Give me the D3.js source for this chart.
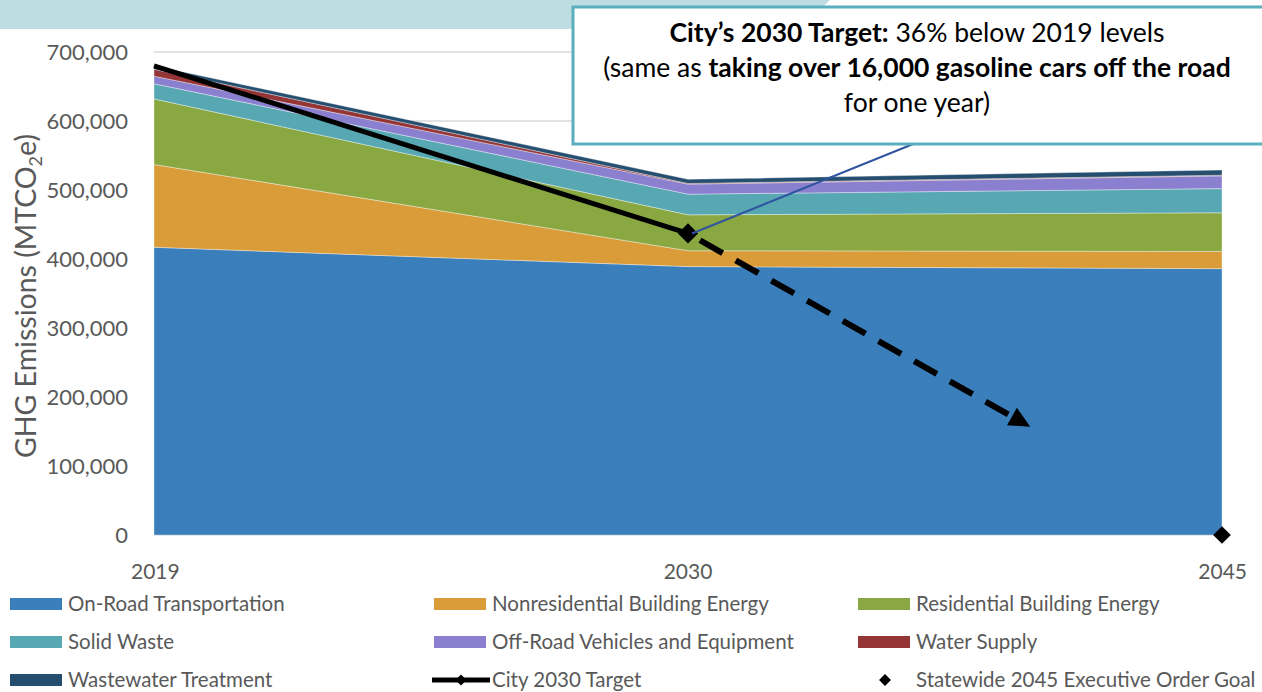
<!DOCTYPE html>
<html>
<head>
<meta charset="utf-8">
<script src="https://cdn.jsdelivr.net/npm/d3@7"></script>
<style>
  body { margin: 0; background: #fff; }
  text { font-family: Lato, "Open Sans", sans-serif; }
</style>
</head>
<body>
<div id="chart"></div>
<script>
// data
var years = ["2019", "2030", "2045"];
var seriesNames = ["On-Road Transportation", "Nonresidential Building Energy", "Residential Building Energy",
  "Solid Waste", "Off-Road Vehicles and Equipment", "Water Supply", "Wastewater Treatment"];
var onRoad = [417000, 389000, 386000];
var nonresidential = [120000, 23000, 25000];
var residential = [95000, 52000, 56000];
var solidWaste = [22000, 30000, 35000];
var offRoad = [11000, 14500, 18500];
var waterSupply = [10000, 1000, 1000];
var wastewater = [5000, 6000, 7500];
var cityTargetYears = ["2019", "2030"];
var cityTarget = [680000, 437000];
var stateGoalYear = "2045";
var stateGoal = 0;
var yTicks = [0, 100000, 200000, 300000, 400000, 500000, 600000, 700000];

var colors = ["#3a7fbb", "#d99c38", "#8aa842", "#58a8b4", "#8b80cf", "#963535", "#254e6f"];

var svgWidth = 1262;
var svgHeight = 692;

var svg = d3.select("#chart")
  .append("svg")
  .attr("width", svgWidth)
  .attr("height", svgHeight);

// banner strip at top
svg.append("polygon")
  .attr("points", "0,0 830,0 800,29 0,29")
  .attr("fill", "#bedde2");

var x = d3.scalePoint().domain(years).range([154, 1222]);
var y = d3.scaleLinear().domain([0, 700000]).range([535, 52]);

// gridlines
svg.append("g")
  .selectAll("line")
  .data(yTicks)
  .enter()
  .append("line")
  .attr("x1", 154)
  .attr("x2", 1222)
  .attr("y1", d => y(d))
  .attr("y2", d => y(d))
  .attr("stroke", "#d9d9d9")
  .attr("stroke-width", 1.5);

// stacked areas
var allSeries = [onRoad, nonresidential, residential, solidWaste, offRoad, waterSupply, wastewater];
var table = years.map(function(yr, i) {
  var row = { year: yr };
  seriesNames.forEach(function(n, k) { row[n] = allSeries[k][i]; });
  return row;
});
var stacked = d3.stack().keys(seriesNames)(table);

var area = d3.area()
  .x(d => x(d.data.year))
  .y0(d => y(d[0]))
  .y1(d => y(d[1]));

svg.append("g")
  .selectAll("path")
  .data(stacked)
  .enter()
  .append("path")
  .attr("d", area)
  .attr("fill", (d, i) => colors[i])
  .attr("stroke", "rgba(255,255,255,0.45)")
  .attr("stroke-width", 0.8);

// y axis labels
svg.append("g")
  .selectAll("text")
  .data(yTicks)
  .enter()
  .append("text")
  .attr("x", 128)
  .attr("y", d => y(d) + 8)
  .attr("text-anchor", "end")
  .style("font-size", "22px")
  .style("fill", "#595959")
  .text(d => d3.format(",")(d));

// x axis labels
svg.append("g")
  .selectAll("text")
  .data(years)
  .enter()
  .append("text")
  .attr("x", d => x(d))
  .attr("y", 579)
  .attr("text-anchor", (d, i) => i == 0 ? "start" : (i == 2 ? "end" : "middle"))
  .attr("dx", (d, i) => i == 0 ? -23 : (i == 2 ? 25 : 0))
  .style("font-size", "21px")
  .style("fill", "#595959")
  .text(d => d);

// y axis title
var yTitle = svg.append("text")
  .attr("transform", "translate(36, 296) rotate(-90)")
  .attr("text-anchor", "middle")
  .style("font-size", "28.5px")
  .style("fill", "#595959");
yTitle.append("tspan").text("GHG Emissions (MTCO");
yTitle.append("tspan").attr("dy", 6).style("font-size", "18px").text("2");
yTitle.append("tspan").attr("dy", -6).text("e)");

// city target line
var targetData = cityTargetYears.map((yr, i) => ({ year: yr, value: cityTarget[i] }));
svg.append("path")
  .datum(targetData)
  .attr("d", d3.line().x(d => x(d.year)).y(d => y(d.value)))
  .attr("fill", "none")
  .attr("stroke", "#000")
  .attr("stroke-width", 5);

var diamond = d3.symbol().type(d3.symbolDiamond2);

svg.append("path")
  .attr("d", diamond.size(260)())
  .attr("transform", `translate(${x("2030")}, ${y(cityTarget[1])})`)
  .attr("fill", "#000");

// dashed projection arrow from 2030 target toward 2045 goal
var x0 = x("2030"), y0 = y(cityTarget[1]);
var x1 = x(stateGoalYear), y1 = y(stateGoal);
var frac = 0.61;
var ex = x0 + (x1 - x0) * frac, ey = y0 + (y1 - y0) * frac;
svg.append("line")
  .attr("x1", x0 + 12)
  .attr("y1", y0 + 12 * (y1 - y0) / (x1 - x0))
  .attr("x2", ex)
  .attr("y2", ey)
  .attr("stroke", "#000")
  .attr("stroke-width", 6)
  .attr("stroke-dasharray", "26,15");
var ang = Math.atan2(y1 - y0, x1 - x0) * 180 / Math.PI;
svg.append("path")
  .attr("d", "M-2,-10 L19,0 L-2,10 Z")
  .attr("transform", `translate(${ex}, ${ey}) rotate(${ang})`)
  .attr("fill", "#000");

// statewide 2045 goal
svg.append("path")
  .attr("d", diamond.size(200)())
  .attr("transform", `translate(${x(stateGoalYear)}, ${y(stateGoal)})`)
  .attr("fill", "#000");

// callout connector
svg.append("line")
  .attr("x1", x0 + 4)
  .attr("y1", y0)
  .attr("x2", 928)
  .attr("y2", 138)
  .attr("stroke", "#2f55a0")
  .attr("stroke-width", 2);

// callout box
svg.append("rect")
  .attr("x", 573)
  .attr("y", 7)
  .attr("width", 720)
  .attr("height", 137)
  .attr("fill", "#fff")
  .attr("stroke", "#5aaebd")
  .attr("stroke-width", 3);

var c1 = svg.append("text")
  .attr("x", 917).attr("y", 42)
  .attr("text-anchor", "middle")
  .style("font-size", "26.5px")
  .style("fill", "#000");
c1.append("tspan").style("font-weight", "bold").text("City\u2019s 2030 Target:");
c1.append("tspan").text(" 36% below 2019 levels");

var c2 = svg.append("text")
  .attr("x", 917).attr("y", 77)
  .attr("text-anchor", "middle")
  .style("font-size", "26.5px")
  .style("fill", "#000");
c2.append("tspan").text("(same as ");
c2.append("tspan").style("font-weight", "bold").text("taking over 16,000 gasoline cars off the road");

svg.append("text")
  .attr("x", 917).attr("y", 112)
  .attr("text-anchor", "middle")
  .style("font-size", "26.5px")
  .style("fill", "#000")
  .text("for one year)");

// legend
var legendItems = seriesNames.map((n, i) => ({ name: n, type: "area", color: colors[i] }));
legendItems.push({ name: "City 2030 Target", type: "line" });
legendItems.push({ name: "Statewide 2045 Executive Order Goal", type: "point" });

var legend = svg.append("g")
  .selectAll("g")
  .data(legendItems)
  .enter()
  .append("g")
  .attr("transform", (d, i) => `translate(${10 + (i % 3) * 424}, ${604 + Math.floor(i / 3) * 38})`);

legend.filter(d => d.type == "area")
  .append("rect")
  .attr("x", 0).attr("y", -6)
  .attr("width", 52).attr("height", 12)
  .attr("fill", d => d.color);

legend.filter(d => d.type == "line")
  .append("line")
  .attr("x1", -2).attr("x2", 56)
  .attr("stroke", "#000")
  .attr("stroke-width", 5);

legend.filter(d => d.type == "line")
  .append("path")
  .attr("d", diamond.size(80)())
  .attr("transform", "translate(27,0)")
  .attr("fill", "#000");

legend.filter(d => d.type == "point")
  .append("path")
  .attr("d", diamond.size(90)())
  .attr("transform", "translate(27,0)")
  .attr("fill", "#000");

legend.append("text")
  .attr("x", 58)
  .attr("y", 7)
  .style("font-size", "20.5px")
  .style("fill", "#595959")
  .text(d => d.name);
</script>
</body>
</html>
